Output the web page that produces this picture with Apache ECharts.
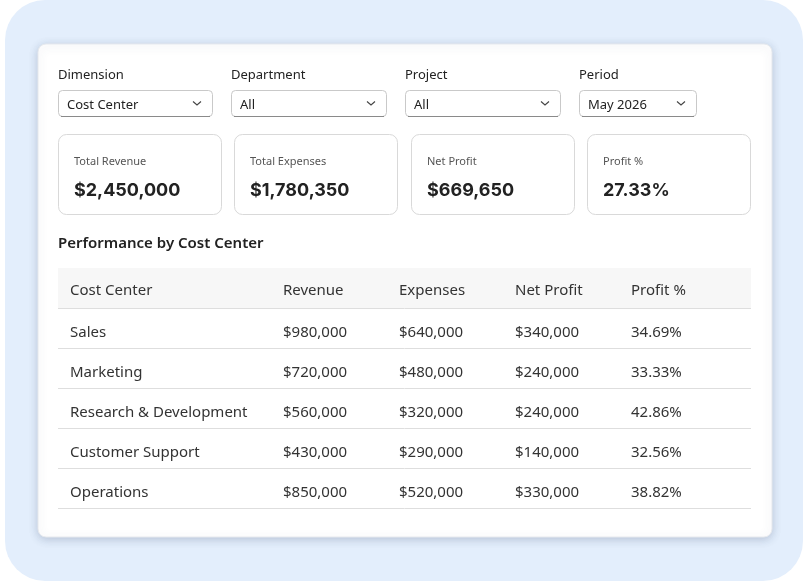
<!DOCTYPE html>
<html>
<head>
<meta charset="utf-8">
<script src="https://cdn.jsdelivr.net/npm/echarts@6/dist/echarts.min.js"></script>
<style>
html,body{margin:0;padding:0;background:#ffffff;}
#main{width:807px;height:586px;}
</style>
</head>
<body>
<div id="main"></div>
<script>
// ---- data ----
const filterLabels = ['Dimension', 'Department', 'Project', 'Period'];
const filterValues = ['Cost Center', 'All', 'All', 'May 2026'];
const kpiLabels = ['Total Revenue', 'Total Expenses', 'Net Profit', 'Profit %'];
const kpiValues = ['$2,450,000', '$1,780,350', '$669,650', '27.33%'];
const tableTitle = 'Performance by Cost Center';
const columns = ['Cost Center', 'Revenue', 'Expenses', 'Net Profit', 'Profit %'];
const costCenters = ['Sales', 'Marketing', 'Research & Development', 'Customer Support', 'Operations'];
const revenue = [980000, 720000, 560000, 430000, 850000];
const expenses = [640000, 480000, 320000, 290000, 520000];
const netProfit = [340000, 240000, 240000, 140000, 330000];
const profitPct = [34.69, 33.33, 42.86, 32.56, 38.82];

const FONT = '"Noto Sans", "Open Sans", sans-serif';
const money = v => '$' + v.toLocaleString('en-US');
const pct = v => v.toFixed(2) + '%';

const chart = echarts.init(document.getElementById('main'), null, {renderer: 'canvas'});
const g = [];

// outer blue panel
g.push({type: 'rect', shape: {x: 5, y: 0, width: 798, height: 581, r: 40},
  style: {fill: '#e3eefc'}, z: 0});
// white card
g.push({type: 'rect', shape: {x: 38, y: 44, width: 734, height: 493, r: 8},
  style: {fill: '#ffffff', stroke: '#e6e9ee', lineWidth: 1,
    shadowBlur: 8, shadowOffsetY: 2, shadowColor: 'rgba(60,80,110,0.25)'}, z: 1});

// filters
const fX = [58, 231, 405, 579];
const fW = [154, 155, 155, 117];
filterLabels.forEach((lab, i) => {
  g.push({type: 'text', x: fX[i], y: 75, z: 3,
    style: {text: lab, fill: '#222', font: '13px ' + FONT, verticalAlign: 'middle'}});
  g.push({type: 'rect', z: 2, shape: {x: fX[i] + 0.5, y: 90.5, width: fW[i], height: 26, r: 4},
    style: {fill: '#fff', stroke: '#c9c9c9', lineWidth: 1}});
  g.push({type: 'line', z: 3, shape: {x1: fX[i] + 3, y1: 116.5, x2: fX[i] + fW[i] - 2, y2: 116.5},
    style: {stroke: '#8a8a8a', lineWidth: 1}});
  g.push({type: 'text', x: fX[i] + 9, y: 105, z: 3,
    style: {text: filterValues[i], fill: '#222', font: '13px ' + FONT, verticalAlign: 'middle'}});
  const cx = fX[i] + fW[i] - 15;
  g.push({type: 'polyline', z: 3, shape: {points: [[cx - 4, 101.5], [cx, 105], [cx + 4, 101.5]]},
    style: {stroke: '#444', lineWidth: 1.1, fill: null}});
});

// KPI cards
const kX = [58, 234, 411, 587];
kpiLabels.forEach((lab, i) => {
  g.push({type: 'rect', z: 2, shape: {x: kX[i] + 0.5, y: 134.5, width: 163, height: 80, r: 8},
    style: {fill: '#fff', stroke: '#d9d9d9', lineWidth: 1}});
  g.push({type: 'text', x: kX[i] + 16, y: 162, z: 3,
    style: {text: lab, fill: '#555', font: '11px ' + FONT, verticalAlign: 'middle'}});
  g.push({type: 'text', x: kX[i] + 16, y: 190.5, z: 3,
    style: {text: kpiValues[i], fill: '#222', font: 'bold 18px Inter, ' + FONT, verticalAlign: 'middle'}});
});

// title
g.push({type: 'text', x: 58, y: 243.5, z: 3,
  style: {text: tableTitle, fill: '#222', font: '600 15px ' + FONT, verticalAlign: 'middle'}});

// table
const colX = [70, 283, 399, 515, 631];
const tLeft = 58, tRight = 751, headTop = 268, rowH = 40;
g.push({type: 'rect', z: 2, shape: {x: tLeft, y: headTop, width: tRight - tLeft, height: rowH},
  style: {fill: '#f7f7f7'}});
columns.forEach((c, j) => {
  g.push({type: 'text', x: colX[j], y: headTop + rowH / 2 + 3, z: 3,
    style: {text: c, fill: '#333', font: '15px ' + FONT, verticalAlign: 'middle'}});
});
g.push({type: 'line', z: 3, shape: {x1: tLeft, y1: headTop + rowH + 0.5, x2: tRight, y2: headTop + rowH + 0.5},
  style: {stroke: '#dedede', lineWidth: 1}});
costCenters.forEach((name, r) => {
  const top = headTop + rowH * (r + 1);
  const cells = [name, money(revenue[r]), money(expenses[r]), money(netProfit[r]), pct(profitPct[r])];
  cells.forEach((t, j) => {
    g.push({type: 'text', x: colX[j], y: top + rowH / 2 + 5, z: 3,
      style: {text: t, fill: '#333', font: '15px ' + FONT, verticalAlign: 'middle'}});
  });
  g.push({type: 'line', z: 3, shape: {x1: tLeft, y1: top + rowH + 0.5, x2: tRight, y2: top + rowH + 0.5},
    style: {stroke: '#dedede', lineWidth: 1}});
});

chart.setOption({animation: false, backgroundColor: '#ffffff', graphic: {elements: g}});
</script>
</body>
</html>
